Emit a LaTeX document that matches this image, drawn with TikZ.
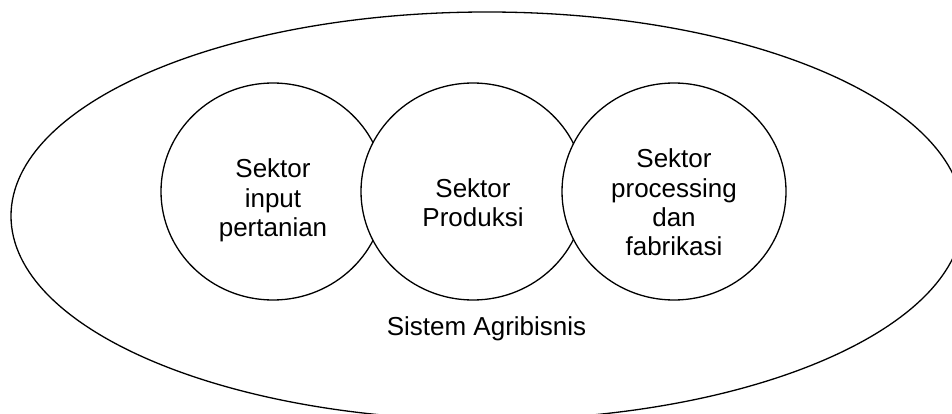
\documentclass[tikz,border=0pt]{standalone}
\usepackage{fontspec}
\setmainfont{Liberation Sans}
\usetikzlibrary{shapes.geometric}
\begin{document}
\begin{tikzpicture}[x=1pt,y=-1pt,
  ring/.style={draw=black, line width=1.3pt, ellipse, inner sep=0pt},
  sector/.style={ring, fill=white, minimum width=224pt, minimum height=217pt},
  label/.style={align=center, inner sep=0pt,
    font=\fontsize{26}{29.3}\selectfont}]
  \useasboundingbox (0,0) rectangle (952,414);
  % outer system boundary
  \node[ring, minimum width=952pt, minimum height=408pt] (sys) at (487,216) {};
  % three overlapping sectors, each one covering the previous
  \node[sector] (s1) at (273,191.5) {};
  \node[sector] (s2) at (473,191.5) {};
  \node[sector] (s3) at (674,191.5) {};
  % sector labels
  \node[label] (t1) at (273,200.3) {Sektor\\input\\pertanian};
  \node[label] (t2) at (473,202.5) {Sektor\\Produksi};
  \node[label] (t3) at (674,202.6) {Sektor\\processing\\dan\\fabrikasi};
  \node[label, anchor=base] (tsys) at (486.5,335) {Sistem Agribisnis};
\end{tikzpicture}
\end{document}
